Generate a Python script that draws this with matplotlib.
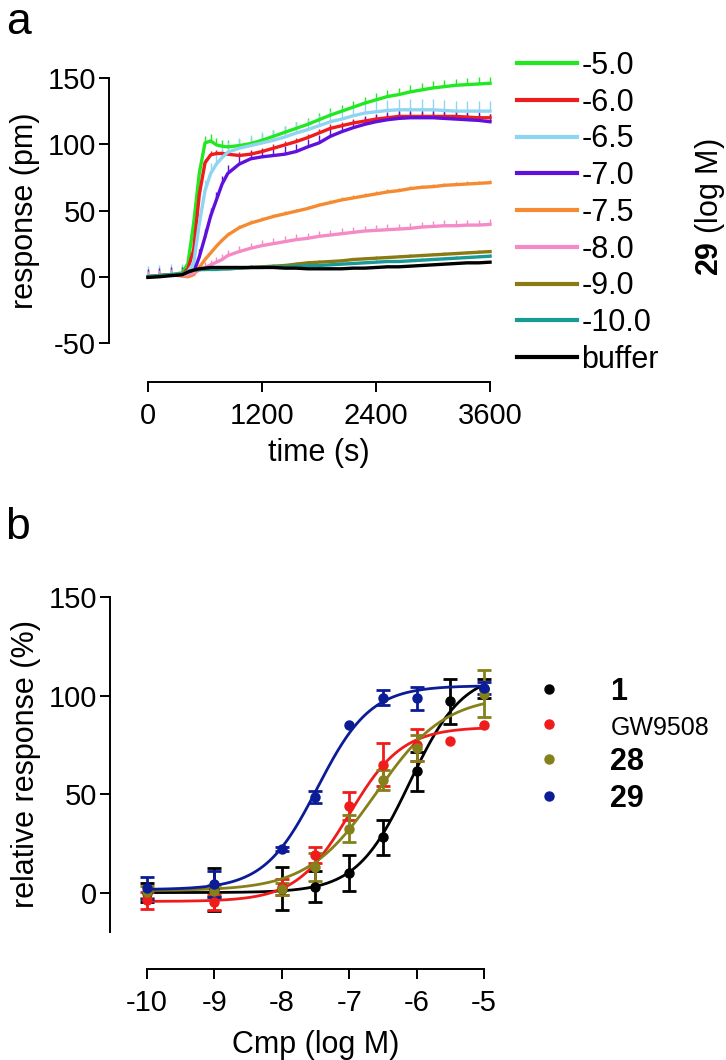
import numpy as np
import matplotlib.pyplot as plt
from matplotlib.lines import Line2D

plt.rcParams['font.family'] = ['Liberation Sans', 'DejaVu Sans']
plt.rcParams['mathtext.fontset'] = 'custom'
plt.rcParams['mathtext.rm'] = 'Liberation Sans'
plt.rcParams['mathtext.bf'] = 'Liberation Sans:bold'
plt.rcParams['axes.unicode_minus'] = False

# ---- panel a: response over time for each concentration of 29 ----
time_s = [0, 120, 240, 360, 420, 480, 540, 600, 660, 720, 780, 840, 960, 1080,
          1200, 1320, 1440, 1560, 1680, 1800, 1920, 2040, 2160, 2280, 2400,
          2520, 2640, 2760, 2880, 3000, 3120, 3240, 3360, 3480, 3600]
conc_labels = ['-5.0', '-6.0', '-6.5', '-7.0', '-7.5', '-8.0', '-9.0', '-10.0', 'buffer']
resp_50 = [0, 0.8, 1.5, 3, 10, 40, 78, 101, 102.5, 99.5, 98.5, 98, 99, 100.5,
           103, 106, 109, 112, 115, 118.5, 122, 125, 128, 131, 133.5,
           136, 137.5, 139.5, 141, 142.5, 143.5, 144.5, 145, 145.5, 146]
resp_60 = [0, 0.8, 1.5, 2, 6, 20, 62, 86, 92, 93, 93, 92.5, 91.5, 92.5,
           94.5, 97, 99.5, 102, 105, 108.5, 112, 114, 116, 117.5, 119,
           120, 121, 121, 121, 121, 121, 121, 120.5, 120, 120]
resp_65 = [0, 0.8, 1.5, 2, 4, 10, 40, 65, 78, 85, 90, 94, 97, 99,
           101, 103, 105.5, 108.5, 111, 114, 117, 119, 121.5, 123.5, 124.5,
           125.5, 126, 126, 126, 126, 125.5, 125, 125, 125, 125]
resp_70 = [0, 0.8, 1.5, 1, 1.5, 3, 15, 30, 46, 58, 70, 78, 85, 89,
           90.5, 91.5, 92.5, 94.5, 98, 101, 106, 109.5, 112.5, 115, 117,
           118.5, 119.5, 120, 120, 120, 119.5, 119, 118.5, 118, 117]
resp_75 = [0, 0.8, 1.5, 0.5, 0, 1.5, 7, 13, 18, 23, 27.5, 31.5, 37, 40.5,
           43, 45.5, 47.5, 49.5, 51.5, 54, 56, 58, 59.5, 61, 62.5,
           64, 65, 66.5, 67.5, 68, 69, 69.5, 70, 70.5, 71]
resp_80 = [0, 0.8, 1.5, 1, 1.5, 3, 5, 7, 9, 11, 13, 16, 19, 21.5,
           23.5, 25, 26.5, 28, 29, 30.5, 31.5, 32.5, 33.5, 34.5, 35,
           35.5, 36, 36.5, 37.5, 38, 38.5, 38.5, 39, 39, 39.5]
resp_90 = [0, 0.8, 1.5, 2, 4, 5, 5.5, 5.5, 6, 6, 6, 6, 6.5, 7,
           7.5, 8, 8.5, 9.5, 10.5, 11, 11.5, 12, 13, 13.5, 14,
           14.5, 15, 15.5, 16, 16.5, 17, 17.5, 18, 18.5, 19]
resp_100 = [0, 0.8, 1.5, 2, 4, 5, 5.5, 5.5, 5.5, 5.5, 6, 6, 6.5, 7,
            7, 7.5, 7.5, 8, 8.5, 8.5, 9, 9.5, 10, 10.5, 11,
            11.5, 11.5, 12, 12.5, 13, 13.5, 14, 14.5, 15, 15.5]
resp_buffer = [-0.5, 0, 0.8, 1.5, 3.5, 5, 6, 6.5, 7, 7, 7, 7, 7, 7,
               7, 7, 6.5, 6.5, 6, 6, 6, 6, 6.5, 6.5, 7,
               7.5, 7.5, 8, 8.5, 9, 9.5, 10, 10.5, 10.5, 11]
sem_a = [5, 3, 8, 6, 2, 4, 1.5, 1.5, 1]
colors_a = ['#22e822', '#ee1c1c', '#8fd4f2', '#6010dc', '#f58a30',
            '#f48ac6', '#8a7a14', '#1a9a96', '#000000']
series_a = [resp_50, resp_60, resp_65, resp_70, resp_75, resp_80,
            resp_90, resp_100, resp_buffer]

# ---- panel b: concentration response ----
log_conc = [-10, -9, -8, -7.5, -7, -6.5, -6, -5.5, -5]
names_b = ['1', 'GW9508', '28', '29']
resp_1 = [0, 1.5, 2, 3, 10, 28, 61.5, 97, 103.5]
sem_1 = [5, 11, 11, 8, 9, 9, 10, 11.5, 5]
resp_gw = [-4, -5, 3, 19, 44, 65, 75, 77, 85]
sem_gw = [4.5, 4, 4, 4, 7, 11, 8, np.nan, np.nan]
resp_28 = [0.5, 1, 2, 13, 32.5, 57, 73.5, np.nan, 101]
sem_28 = [3, 3, 3, 7, 7, 5, 6.5, np.nan, 12]
resp_29 = [2.5, 4.5, 22, 48.5, 85, 99, 98.5, np.nan, 104]
sem_29 = [5.5, 6.5, 1, 3, np.nan, 4, 6, np.nan, 3]
# four-parameter fits: bottom, top, logEC50, hill
fit_1 = [0, 112, -6.1, 1.1]
fit_gw = [-4.5, 84, -7.0, 1.1]
fit_28 = [1, 100, -6.6, 0.85]
fit_29 = [1.5, 105, -7.47, 1.1]
colors_b = ['#000000', '#f01c1c', '#86801a', '#0c1c96']

fig = plt.figure(figsize=(7.26, 10.6), dpi=100)
W, H = 726.0, 1060.0


def style_axes(ax, off):
    ax.spines[['top', 'right']].set_visible(False)
    ax.spines['left'].set_position(('outward', off))
    ax.spines['bottom'].set_position(('outward', off))
    for s in ('left', 'bottom'):
        ax.spines[s].set_linewidth(1.4)
    ax.tick_params(length=7.5, width=1.4, labelsize=21, direction='out')
    ax.tick_params(axis='y', pad=2)
    ax.tick_params(axis='x', pad=7)


# panel a
axa = fig.add_axes([148 / W, 1 - 343 / H, 342 / W, 265 / H])
for vals, err, col in zip(series_a, sem_a, colors_a):
    vals = np.array(vals, dtype=float)
    axa.errorbar(time_s, vals, yerr=[np.zeros_like(vals), np.full_like(vals, err)],
                 color=col, lw=2.4, elinewidth=1.0, capsize=0, clip_on=False)
axa.set_xlim(0, 3600)
axa.set_ylim(-50, 150)
axa.set_xticks([0, 1200, 2400, 3600])
axa.set_yticks([-50, 0, 50, 100, 150])
style_axes(axa, 28)
axa.spines['left'].set_bounds(-50, 150)
axa.spines['bottom'].set_bounds(0, 3600)
axa.set_xlabel('time (s)', fontsize=22, labelpad=6)
axa.set_ylabel('response (pm)', fontsize=22, labelpad=5)

handles_a = [Line2D([], [], color=c, lw=3) for c in colors_a]
axa.legend(handles_a, conc_labels, loc='upper left',
           bbox_to_anchor=(517 / W, 1 - 51 / H), bbox_transform=fig.transFigure,
           frameon=False, borderpad=0, borderaxespad=0, fontsize=22,
           handlelength=1.95, handletextpad=0.15, labelspacing=0.22)
fig.text(710 / W, 1 - 207 / H, r'$\mathbf{29}$ (log M)', rotation=90,
         fontsize=22, ha='center', va='center')
fig.text(18 / W, 1 - 2 / H, 'a', fontsize=32, ha='center', va='top')

# panel b
axb = fig.add_axes([147 / W, 1 - 932 / H, 337 / W, 335 / H])
xs = np.linspace(-10, -5, 300)
for resp, sem, fit, col in zip([resp_1, resp_gw, resp_28, resp_29],
                               [sem_1, sem_gw, sem_28, sem_29],
                               [fit_1, fit_gw, fit_28, fit_29], colors_b):
    bottom, top, logec, hill = fit
    axb.plot(xs, bottom + (top - bottom) / (1 + 10 ** ((logec - xs) * hill)),
             color=col, lw=2.0, clip_on=False)
    axb.errorbar(log_conc, resp, yerr=sem, fmt='o', ms=6.5, color=col,
                 capsize=5, capthick=2.0, elinewidth=2.0, clip_on=False)
axb.set_xlim(-10, -5)
axb.set_ylim(-20, 150)
axb.set_xticks([-10, -9, -8, -7, -6, -5])
axb.set_yticks([0, 50, 100, 150])
style_axes(axb, 26.6)
axb.spines['left'].set_bounds(-20, 150)
axb.spines['bottom'].set_bounds(-10, -5)
axb.set_xlabel('Cmp (log M)', fontsize=22, labelpad=9)
axb.set_ylabel('relative response (%)', fontsize=22, labelpad=5)

handles_b = [Line2D([], [], marker='o', ls='', color=c, ms=6.5) for c in colors_b]
leg = axb.legend(handles_b, names_b, loc='upper left',
                 bbox_to_anchor=(534 / W, 1 - 677 / H), bbox_transform=fig.transFigure,
                 frameon=False, borderpad=0, borderaxespad=0, fontsize=22,
                 handlelength=1.0, handletextpad=1.5, labelspacing=0.22)
for t in leg.get_texts():
    if t.get_text() == 'GW9508':
        t.set_fontsize(18)
    else:
        t.set_fontweight('bold')
fig.text(18 / W, 1 - 527 / H, 'b', fontsize=32, ha='center', va='center')

fig.savefig('out.png', dpi=100)
